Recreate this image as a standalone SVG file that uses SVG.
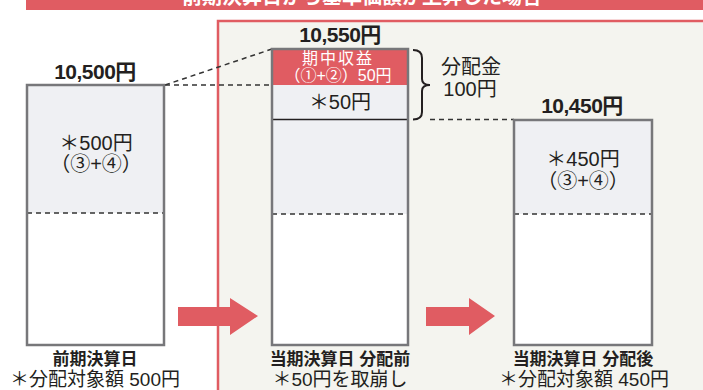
<svg xmlns="http://www.w3.org/2000/svg" width="703" height="390" viewBox="0 0 703 390">
<defs>
<style>
.t{font-family:"Liberation Sans","Noto Sans CJK JP",sans-serif;fill:#231f20;text-anchor:middle}
.b{font-weight:bold}
.box{fill:none;stroke:#77777a;stroke-width:2.5}
.top{fill:#eff0f3}
.dash{stroke:#333;stroke-width:1.5;stroke-dasharray:5 4;fill:none}
.arrow{fill:#e05c62}
</style>
</defs>
<rect width="703" height="390" fill="#ffffff"/>
<g id="banner">
<rect x="26" y="-2" width="680" height="12" fill="#e05c62"/>
<text class="t b" x="362" y="4" font-size="20" style="fill:#fff">前期決算日から基準価額が上昇した場合</text>
</g>
<g id="panel">
<rect x="218" y="21" width="500" height="380" fill="#f4f4ef" stroke="#e05c62" stroke-width="2.5"/>
</g>
<g id="connectors">
<line class="dash" x1="165" y1="85" x2="272" y2="49"/>
<line class="dash" x1="165" y1="85" x2="408" y2="85"/>
<line class="dash" x1="430" y1="119.5" x2="514" y2="119.5"/>
<path d="M413,50 Q422,50 422,58 L422,79 Q422,85 430,85 Q422,85 422,91 L422,112 Q422,119.5 413,119.5" fill="none" stroke="#231f20" stroke-width="2"/>
<polygon class="arrow" points="178,307 230,307 230,298 258,316 230,335 230,326 178,326"/>
<polygon class="arrow" points="426,307 469,307 469,298 495,316 469,335 469,326 426,326"/>
</g>
<g id="node-prev">
<text class="t b" x="95" y="79" font-size="21" letter-spacing="-0.5">10,500円</text>
<rect class="top" x="27" y="85" width="137" height="128"/>
<rect x="27" y="213" width="137" height="132" fill="#fff"/>
<line class="dash" x1="27" y1="213" x2="164" y2="213"/>
<rect class="box" x="27" y="85" width="137" height="260"/>
<text class="t" x="96" y="150" font-size="20">＊500円</text>
<text class="t" x="96" y="171" font-size="20">（③+④）</text>
<text class="t b" x="95" y="365" font-size="17">前期決算日</text>
<text class="t" x="95" y="386" font-size="19">＊分配対象額 500円</text>
</g>
<g id="node-before">
<text class="t b" x="340" y="42" font-size="21" letter-spacing="-0.5">10,550円</text>
<rect x="272" y="49" width="136" height="36" fill="#e05c62"/>
<rect class="top" x="272" y="85" width="136" height="34"/>
<rect class="top" x="272" y="119" width="136" height="95"/>
<rect x="272" y="214" width="136" height="131" fill="#fff"/>
<line class="dash" x1="272" y1="214" x2="408" y2="214"/>
<line x1="272" y1="119.5" x2="408" y2="119.5" stroke="#231f20" stroke-width="1.5"/>
<rect class="box" x="272" y="49" width="136" height="296"/>
<text class="t" x="338" y="64" font-size="16" letter-spacing="2" style="fill:#fff">期中収益</text>
<text class="t" x="338" y="81" font-size="16" style="fill:#fff">（①+②）50円</text>
<text class="t" x="340" y="109" font-size="20">＊50円</text>
<text class="t b" x="340" y="365" font-size="17">当期決算日 分配前</text>
<text class="t" x="340" y="386" font-size="19">＊50円を取崩し</text>
</g>
<g id="dist">
<text class="t" x="471" y="74" font-size="20">分配金</text>
<text class="t" x="470" y="96" font-size="20">100円</text>
</g>
<g id="node-after">
<text class="t b" x="582" y="113" font-size="21" letter-spacing="-0.5">10,450円</text>
<rect class="top" x="514" y="120" width="138" height="94"/>
<rect x="514" y="214" width="138" height="131" fill="#fff"/>
<line class="dash" x1="514" y1="214" x2="652" y2="214"/>
<rect class="box" x="514" y="120" width="138" height="225"/>
<text class="t" x="583" y="166" font-size="20">＊450円</text>
<text class="t" x="583" y="188" font-size="20">（③+④）</text>
<text class="t b" x="583" y="365" font-size="17">当期決算日 分配後</text>
<text class="t" x="584" y="386" font-size="19">＊分配対象額 450円</text>
</g>
</svg>
